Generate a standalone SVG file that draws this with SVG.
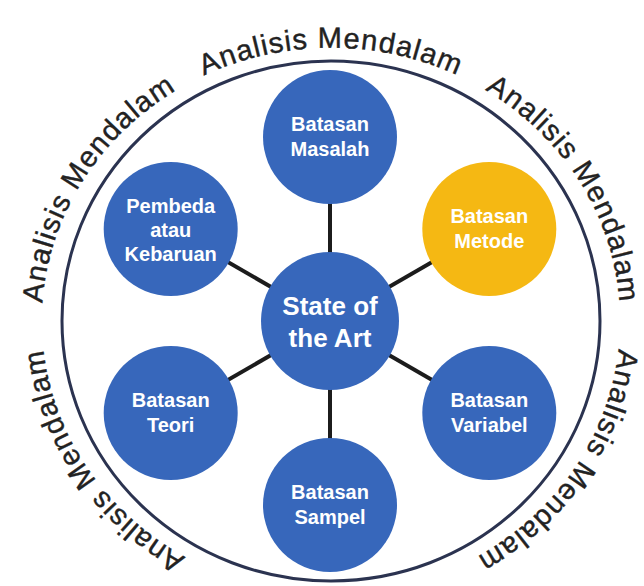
<svg xmlns="http://www.w3.org/2000/svg" width="644" height="586" viewBox="0 0 644 586">
<style>
.outer{fill:none;stroke:#2b3350;stroke-width:3}
.node{fill:#3767bb}
.hl{fill:#f5b813}
.lbl{font-family:"Liberation Sans",Arial,sans-serif;font-weight:bold;font-size:20px;fill:#ffffff;text-anchor:middle}
.big{font-size:26px}
.ring{font-family:"Liberation Sans",Arial,sans-serif;font-size:29px;letter-spacing:1.1px;fill:#222222;stroke:#222222;stroke-width:0.4}
.conn{stroke:#1c1c1c;stroke-width:4;stroke-linecap:butt}
</style>
<defs>
<path id="pTop" d="M80.6,184.5 A289,273 0 0 1 581.4,184.5"/>
<path id="pUR" d="M331,48 A289,273 0 0 1 581.4,457.5"/>
<path id="pLR" d="M581.4,184.5 A289,273 0 0 1 331,594"/>
<path id="pLL" d="M331,594 A289,273 0 0 1 80.6,184.5"/>
<path id="pUL" d="M80.6,457.5 A289,273 0 0 1 331,48"/>
</defs>
<rect width="644" height="586" fill="#ffffff"/>
<g id="ring">
<ellipse class="outer" cx="331" cy="321" rx="269" ry="260"/>
<text class="ring"><textPath href="#pTop" startOffset="50%" text-anchor="middle">Analisis Mendalam</textPath></text>
<text class="ring"><textPath href="#pUR" startOffset="50%" text-anchor="middle">Analisis Mendalam</textPath></text>
<text class="ring"><textPath href="#pLR" startOffset="51.7%" text-anchor="middle">Analisis Mendalam</textPath></text>
<text class="ring"><textPath href="#pLL" startOffset="48.3%" text-anchor="middle">Analisis Mendalam</textPath></text>
<text class="ring"><textPath href="#pUL" startOffset="50%" text-anchor="middle">Analisis Mendalam</textPath></text>
</g>
<g id="connectors">
<line class="conn" x1="330" y1="321" x2="330" y2="137"/>
<line class="conn" x1="330" y1="321" x2="489.3" y2="229"/>
<line class="conn" x1="330" y1="321" x2="489.3" y2="413"/>
<line class="conn" x1="330" y1="321" x2="330" y2="505"/>
<line class="conn" x1="330" y1="321" x2="170.7" y2="413"/>
<line class="conn" x1="330" y1="321" x2="170.7" y2="229"/>
</g>
<g id="masalah">
<circle class="node" cx="330" cy="137" r="67"/>
<text class="lbl" x="330" y="131">Batasan</text>
<text class="lbl" x="330" y="156">Masalah</text>
</g>
<g id="metode">
<circle class="hl" cx="489.3" cy="229" r="67"/>
<text class="lbl" x="489.3" y="223">Batasan</text>
<text class="lbl" x="489.3" y="248">Metode</text>
</g>
<g id="variabel">
<circle class="node" cx="489.3" cy="413" r="67"/>
<text class="lbl" x="489.3" y="407">Batasan</text>
<text class="lbl" x="489.3" y="432">Variabel</text>
</g>
<g id="sampel">
<circle class="node" cx="330" cy="505" r="67"/>
<text class="lbl" x="330" y="499">Batasan</text>
<text class="lbl" x="330" y="524">Sampel</text>
</g>
<g id="teori">
<circle class="node" cx="170.7" cy="413" r="67"/>
<text class="lbl" x="170.7" y="407">Batasan</text>
<text class="lbl" x="170.7" y="432">Teori</text>
</g>
<g id="pembeda">
<circle class="node" cx="170.7" cy="229" r="67"/>
<text class="lbl" x="170.7" y="213">Pembeda</text>
<text class="lbl" x="170.7" y="237">atau</text>
<text class="lbl" x="170.7" y="261">Kebaruan</text>
</g>
<g id="state">
<circle class="node" cx="330" cy="321" r="69"/>
<text class="lbl big" x="330" y="315">State of</text>
<text class="lbl big" x="330" y="347">the Art</text>
</g>
</svg>
